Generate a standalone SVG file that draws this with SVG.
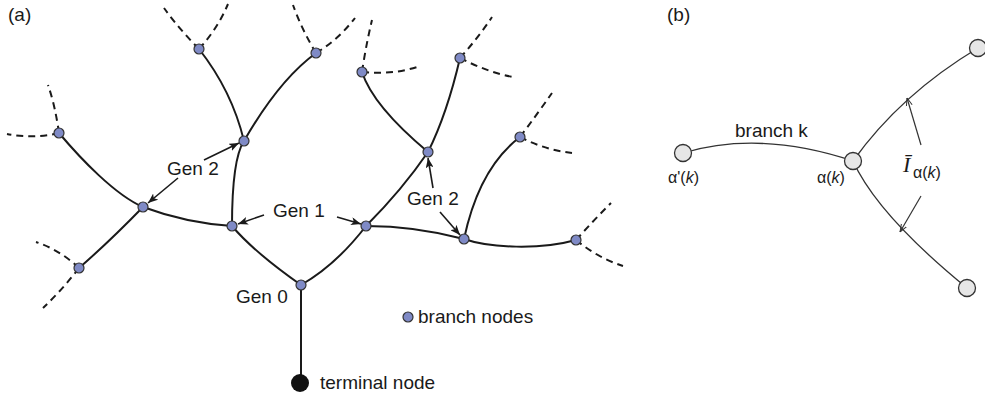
<svg xmlns="http://www.w3.org/2000/svg" width="985" height="396" viewBox="0 0 985 396">
<style>
text{font-family:"Liberation Sans",Arial,sans-serif;fill:#1a1a1a}
.lbl{font-size:19px}
.sm{font-size:16px}
.e{fill:none;stroke:#1a1a1a;stroke-width:2}
.d{fill:none;stroke:#1a1a1a;stroke-width:2;stroke-dasharray:7 5}
.ar{fill:none;stroke:#1a1a1a;stroke-width:1.6;marker-end:url(#ah)}
.bn{fill:#7f8ac6;stroke:#333;stroke-width:1.2}
.eb{fill:none;stroke:#333;stroke-width:1.3}
.arb{fill:none;stroke:#333;stroke-width:1.2;marker-end:url(#av)}
.gn{fill:#e6e6e6;stroke:#333;stroke-width:1.3}
</style>
<defs>
<marker id="ah" viewBox="0 0 10 8" refX="10" refY="4" markerWidth="10" markerHeight="8" orient="auto" markerUnits="userSpaceOnUse"><path d="M0,0 L10,4 L0,8 L2.5,4 z" fill="#1a1a1a"/></marker>
<marker id="av" viewBox="0 0 8 8" refX="8" refY="4" markerWidth="8" markerHeight="8" orient="auto" markerUnits="userSpaceOnUse"><path d="M0,1 L8,4 L0,7" fill="none" stroke="#333" stroke-width="1"/></marker>
</defs>
<rect width="985" height="396" fill="#fff"/>
<text class="lbl" x="8" y="21">(a)</text>
<text class="lbl" x="667" y="21">(b)</text>
<g id="connectors">
<path class="e" d="M301,383 L301,285"/>
<path class="e" d="M301,285 Q254,252 232,226"/>
<path class="e" d="M301,285 Q336,265 366,226"/>
<path class="e" d="M232,226 Q186,223 143,207"/>
<path class="e" d="M232,226 Q232,159 244,141"/>
<path class="e" d="M244,141 Q232,91 199,49"/>
<path class="e" d="M244,141 Q279,80 316,53"/>
<path class="e" d="M143,207 C115,195 80,158 59,133"/>
<path class="e" d="M143,207 Q109,242 79,268"/>
<path class="e" d="M366,226 Q402,190 428,152"/>
<path class="e" d="M366,226 Q415,226 464,239"/>
<path class="e" d="M464,239 C490,248 540,250 576,240"/>
<path class="e" d="M464,239 Q479,168 520,137"/>
<path class="e" d="M428,152 Q373,106 362,72"/>
<path class="e" d="M428,152 Q447,114 460,58"/>
<path class="d" d="M59,133 Q55,105 48,85"/>
<path class="d" d="M59,133 Q33,139 7,134"/>
<path class="d" d="M79,268 Q60,250 36,242"/>
<path class="d" d="M79,268 Q62,290 43,308"/>
<path class="d" d="M199,49 Q180,30 164,8"/>
<path class="d" d="M199,49 Q218,28 228,4"/>
<path class="d" d="M316,53 Q302,30 293,5"/>
<path class="d" d="M316,53 Q338,40 355,18"/>
<path class="d" d="M362,72 Q366,45 372,20"/>
<path class="d" d="M362,72 Q392,75 417,67"/>
<path class="d" d="M460,58 Q478,38 492,17"/>
<path class="d" d="M460,58 Q487,72 513,77"/>
<path class="d" d="M520,137 Q538,113 552,93"/>
<path class="d" d="M520,137 Q545,150 572,153"/>
<path class="d" d="M576,240 Q594,220 611,203"/>
<path class="d" d="M576,240 Q598,258 623,266"/>
<path class="ar" d="M204,160 L239,143"/>
<path class="ar" d="M178,178 L148,203"/>
<path class="ar" d="M264,215 L238,224"/>
<path class="ar" d="M337,217 L361,224"/>
<path class="ar" d="M433,188 L428,158"/>
<path class="ar" d="M440,212 L460,235"/>
<path class="eb" d="M683,153 Q760,130 853,161"/>
<path class="eb" d="M853,161 Q900.5,94.5 978,48"/>
<path class="eb" d="M853,161 Q877.6,215 967,288"/>
<path class="arb" d="M921,145 L907,98"/>
<path class="arb" d="M921,196 L900,232"/>
</g>
<g id="terminal"><circle cx="300" cy="383" r="9" fill="#111"/><text class="lbl" x="320" y="389">terminal node</text></g>
<g id="gen0"><circle class="bn" cx="301" cy="285" r="5"/><text class="lbl" x="236" y="303">Gen 0</text></g>
<g id="gen1-left"><circle class="bn" cx="232" cy="226" r="5"/></g>
<g id="gen1-right"><circle class="bn" cx="366" cy="226" r="5"/></g>
<g id="gen1-label"><text class="lbl" x="273" y="217">Gen 1</text></g>
<g id="gen2-left"><circle class="bn" cx="143" cy="207" r="5"/></g>
<g id="gen2-upper"><circle class="bn" cx="244" cy="141" r="5"/></g>
<g id="gen2-label-left"><text class="lbl" x="167" y="175">Gen 2</text></g>
<g id="gen2-e"><circle class="bn" cx="428" cy="152" r="5"/></g>
<g id="gen2-f"><circle class="bn" cx="464" cy="239" r="5"/></g>
<g id="gen2-label-right"><text class="lbl" x="407" y="205">Gen 2</text></g>
<g id="n-c1"><circle class="bn" cx="59" cy="133" r="5"/></g>
<g id="n-c2"><circle class="bn" cx="79" cy="268" r="5"/></g>
<g id="n-d1"><circle class="bn" cx="199" cy="49" r="5"/></g>
<g id="n-d2"><circle class="bn" cx="316" cy="53" r="5"/></g>
<g id="n-e1"><circle class="bn" cx="362" cy="72" r="5"/></g>
<g id="n-e2"><circle class="bn" cx="460" cy="58" r="5"/></g>
<g id="n-f1"><circle class="bn" cx="520" cy="137" r="5"/></g>
<g id="n-f2"><circle class="bn" cx="576" cy="240" r="5"/></g>
<g id="legend"><circle class="bn" cx="408" cy="317" r="5"/><text class="lbl" x="418" y="323">branch nodes</text></g>
<g id="alpha-prime"><circle class="gn" cx="683" cy="153" r="8.5"/><text class="sm" x="668" y="183">α'(<tspan font-style="italic">k</tspan>)</text></g>
<g id="alpha"><circle class="gn" cx="853" cy="161" r="8.5"/><text class="sm" x="817" y="183">α(<tspan font-style="italic">k</tspan>)</text></g>
<g id="child-top"><circle class="gn" cx="978" cy="48" r="8.5"/></g>
<g id="child-bottom"><circle class="gn" cx="967" cy="288" r="8.5"/></g>
<g id="branch-label"><text class="lbl" x="735" y="137">branch k</text></g>
<g id="current-label"><text x="903" y="172" style="font-family:'Liberation Serif','Times New Roman',serif;font-style:italic;font-size:22px">Ī</text><text class="sm" x="913" y="178">α(<tspan font-style="italic">k</tspan>)</text></g>
</svg>
